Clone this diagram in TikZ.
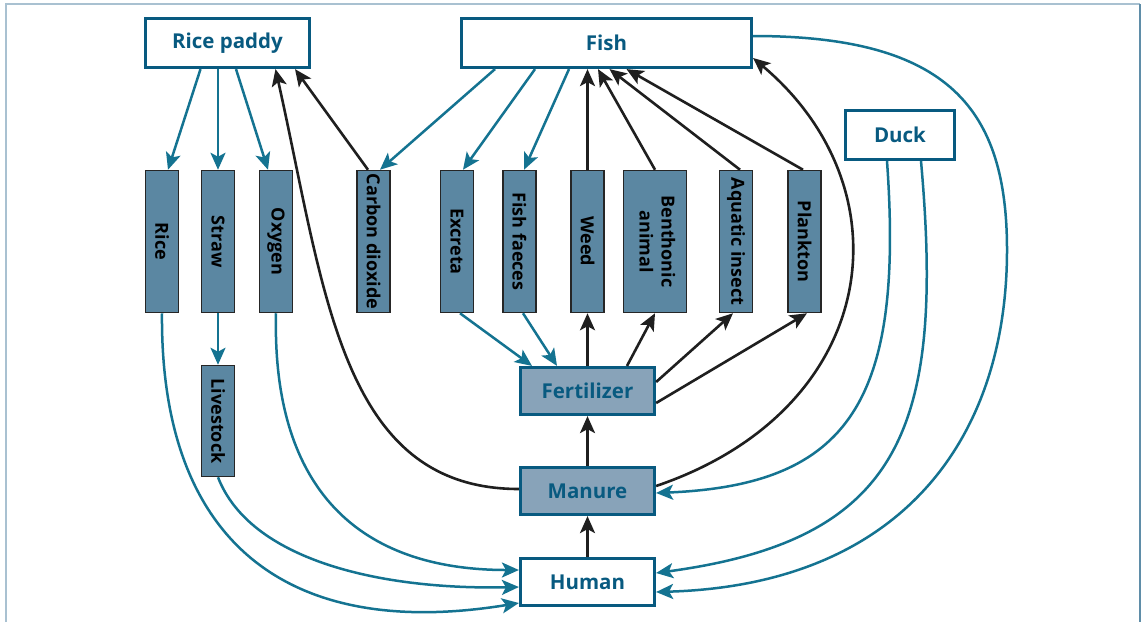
\documentclass[tikz,border=0pt]{standalone}
\usepackage{fontspec}
\usepackage{graphicx}
\setmainfont{Open Sans}
\usetikzlibrary{arrows.meta}
\definecolor{boxteal}{HTML}{085A80}
\definecolor{vfill}{HTML}{5B87A2}
\definecolor{vborder}{HTML}{262626}
\definecolor{midfill}{HTML}{88A3B9}
\definecolor{arrowteal}{HTML}{147391}
\definecolor{arrowblack}{HTML}{1F1F1F}
\definecolor{framelight}{HTML}{A9C1D1}
\definecolor{framedark}{HTML}{5F8DA8}
\tikzset{
  bigbox/.style={draw=boxteal, line width=3.2pt, fill=white, text=boxteal,
    font=\fontsize{20.5}{24}\selectfont\bfseries, inner sep=0pt,
    minimum height=49pt},
  midbox/.style={bigbox, fill=midfill, minimum height=47pt, minimum width=134pt},
  vbox/.style={draw=vborder, line width=1.5pt, fill=vfill, inner sep=0pt,
    minimum height=142pt, minimum width=33pt,
    font=\fontsize{18}{22}\selectfont\bfseries},
  tarrow/.style={draw=arrowteal, line width=2.5pt,
    -{Stealth[length=17pt,width=15pt,inset=4pt]}},
  karrow/.style={draw=arrowblack, line width=2.6pt,
    -{Stealth[length=17pt,width=15pt,inset=4pt]}},
}
\newcommand{\vlabel}[1]{\rotatebox{-90}{#1}}
\begin{document}
\begin{tikzpicture}[x=1pt,y=-1pt]
\useasboundingbox[fill=white] (0,0) rectangle (1142,622);
% page frame
\draw[framelight, line width=1.5pt] (6,622) -- (6,4) -- (1140,4);
\draw[framedark, line width=1.5pt] (1140,4) -- (1140,622);

% top row
\node[bigbox, minimum width=164pt] (rp) at (227.5,43) {Rice paddy};
\node[bigbox, minimum width=290pt] (fish) at (606.5,43) {Fish};
\node[bigbox, minimum width=109pt] (duck) at (900,135) {Duck};

% products and feed
\node[vbox] (rice)  at (162,241.5)   {\vlabel{Rice}};
\node[vbox] (straw) at (218,241.5)   {\vlabel{Straw}};
\node[vbox] (oxy)   at (276,241.5)   {\vlabel{Oxygen}};
\node[vbox] (co2)   at (373.5,241.5) {\vlabel{Carbon dioxide}};
\node[vbox] (excr)  at (457,241.5)   {\vlabel{Excreta}};
\node[vbox] (ffae)  at (519.5,241.5) {\vlabel{Fish faeces}};
\node[vbox] (weed)  at (587.5,241.5) {\vlabel{Weed}};
\node[vbox, minimum width=63pt] (benth) at (655,241.5)
  {\vlabel{\begin{tabular}{@{}c@{}}Benthonic\\animal\end{tabular}}};
\node[vbox] (aqi)   at (736,241.5)   {\vlabel{Aquatic insect}};
\node[vbox] (plank) at (804.5,241.5) {\vlabel{Plankton}};
\node[vbox, minimum height=111pt] (live) at (218,421) {\vlabel{Livestock}};

% central column
\node[midbox] (fert) at (587.5,391) {Fertilizer};
\node[midbox] (man)  at (587.5,491) {Manure};
\node[midbox, fill=white] (hum) at (587.5,582) {Human};

% teal flows
\draw[tarrow] ([xshift=-27pt]rp.south) -- ([xshift=6pt]rice.north);
\draw[tarrow] ([xshift=-9.5pt]rp.south) -- (straw.north);
\draw[tarrow] ([xshift=8.5pt]rp.south) -- ([xshift=-8pt]oxy.north);
\draw[tarrow] ([xshift=-111.5pt]fish.south) -- ([xshift=6.5pt]co2.north);
\draw[tarrow] ([xshift=-71.5pt]fish.south) -- ([xshift=6pt]excr.north);
\draw[tarrow] ([xshift=-37.5pt]fish.south) -- ([xshift=4.5pt]ffae.north);
\draw[tarrow] (straw.south) -- (live.north);
\draw[tarrow] ([xshift=3pt]excr.south) -- ([xshift=-55.5pt]fert.north);
\draw[tarrow] ([xshift=3.5pt]ffae.south) -- ([xshift=-30.5pt]fert.north);
\draw[tarrow] (rice.south) .. controls (160,535) and (280,642) .. ([yshift=-21pt]hum.west);
\draw[tarrow] (live.south) .. controls (250,560) and (380,590) .. ([yshift=-5pt]hum.west);
\draw[tarrow] (oxy.south) .. controls (272,480) and (350,570) .. ([yshift=12pt]hum.west);
\draw[tarrow] ([xshift=-13pt]duck.south) .. controls (904,400) and (850,485) .. ([yshift=-2pt]man.east);
\draw[tarrow] ([xshift=21pt]duck.south) .. controls (945,430) and (900,540) .. ([yshift=9pt]hum.east);
\draw[tarrow] ([yshift=7pt]fish.east) .. controls (950,36) and (1007,110) .. (1007,250)
  .. controls (1007,440) and (900,585) .. ([yshift=-10pt]hum.east);

% black flows
\draw[karrow] ([xshift=-5.5pt]co2.north) -- ([xshift=67.5pt]rp.south);
\draw[karrow] ([yshift=2pt]man.west) .. controls (340,489) and (325,290) .. ([xshift=48pt]rp.south);
\draw[karrow] (weed.north) -- (weed.north |- fish.south);
\draw[karrow] (benth.north) -- ([xshift=-8.5pt]fish.south);
\draw[karrow] ([xshift=4pt]aqi.north) -- ([xshift=3pt]fish.south);
\draw[karrow] ([xshift=-1.5pt]plank.north) -- ([xshift=20pt]fish.south);
\draw[karrow] ([yshift=5pt]man.east) .. controls (880,410) and (910,190) .. ([yshift=-15pt]fish.east);
\draw[karrow] (man.north) -- (fert.south);
\draw[karrow] (hum.north) -- (man.south);
\draw[karrow] (fert.north) -- (weed.south);
\draw[karrow] ([xshift=39.5pt]fert.north) -- (benth.south);
\draw[karrow] ([yshift=9pt]fert.east) -- ([xshift=-3pt]aqi.south);
\draw[karrow] ([yshift=-12pt]fert.east) -- ([xshift=2.5pt]plank.south);
\end{tikzpicture}
\end{document}
